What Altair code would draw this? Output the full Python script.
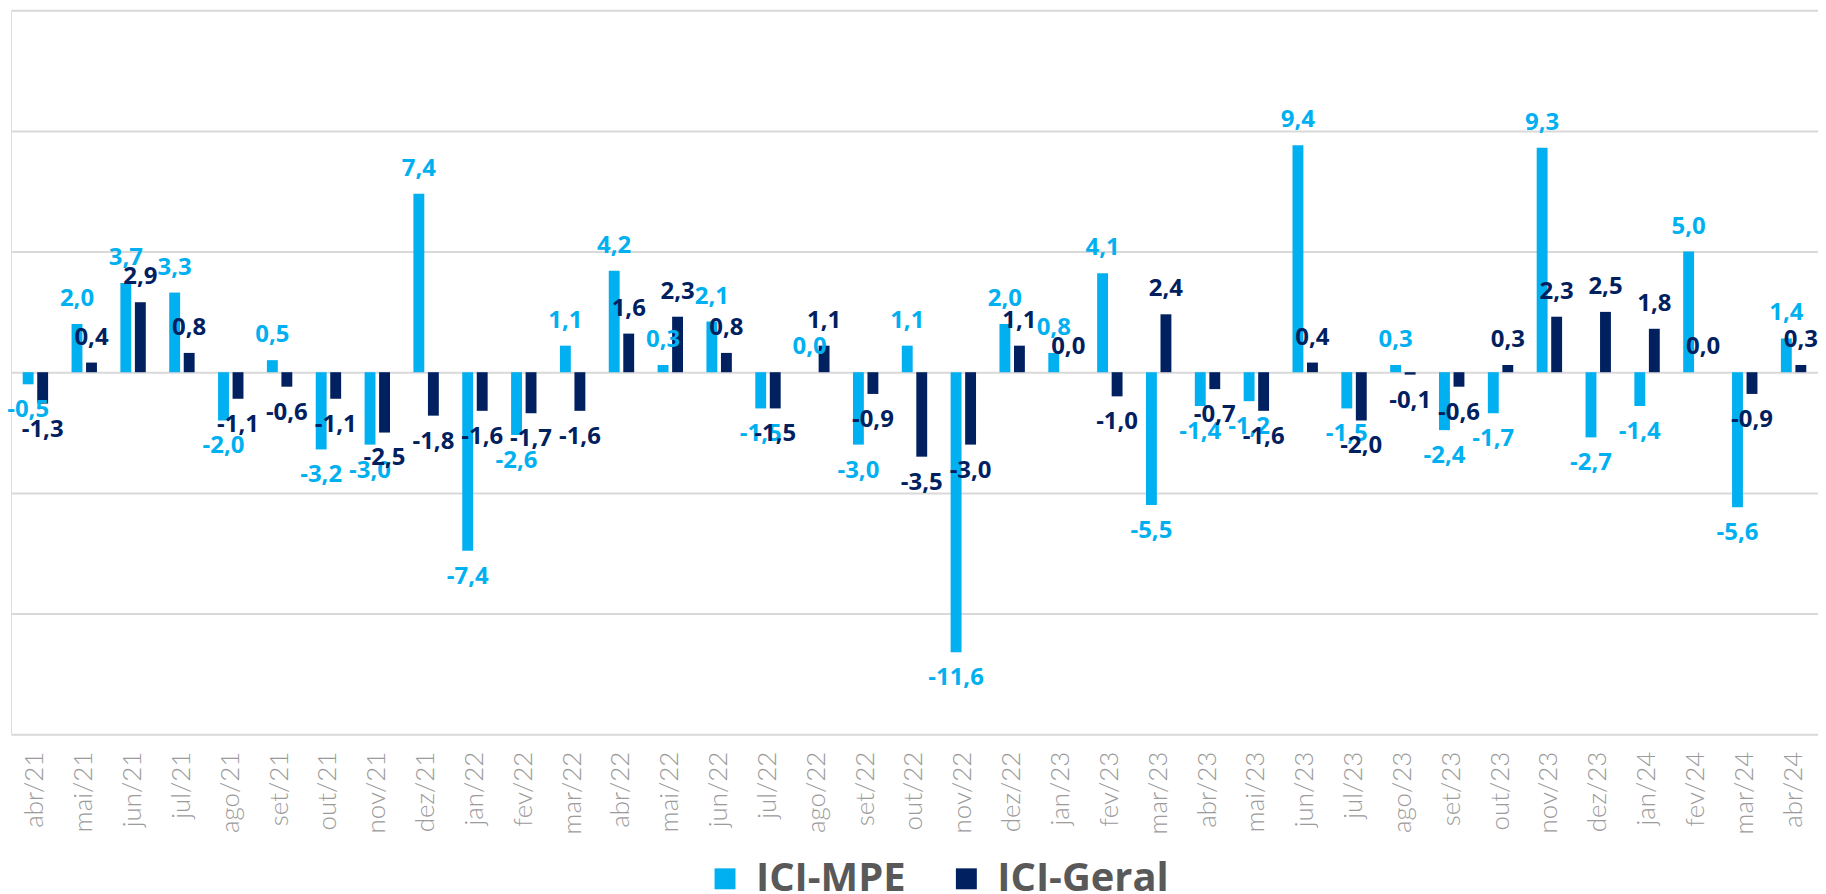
import altair as alt
import pandas as pd

meses = ["abr/21", "mai/21", "jun/21", "jul/21", "ago/21", "set/21", "out/21", "nov/21", "dez/21",
         "jan/22", "fev/22", "mar/22", "abr/22", "mai/22", "jun/22", "jul/22", "ago/22", "set/22",
         "out/22", "nov/22", "dez/22", "jan/23", "fev/23", "mar/23", "abr/23", "mai/23", "jun/23",
         "jul/23", "ago/23", "set/23", "out/23", "nov/23", "dez/23", "jan/24", "fev/24", "mar/24",
         "abr/24"]
ici_mpe = [-0.5, 2.0, 3.7, 3.3, -2.0, 0.5, -3.2, -3.0, 7.4,
           -7.4, -2.6, 1.1, 4.2, 0.3, 2.1, -1.5, 0.0, -3.0,
           1.1, -11.6, 2.0, 0.8, 4.1, -5.5, -1.4, -1.2, 9.4,
           -1.5, 0.3, -2.4, -1.7, 9.3, -2.7, -1.4, 5.0, -5.6,
           1.4]
ici_geral = [-1.3, 0.4, 2.9, 0.8, -1.1, -0.6, -1.1, -2.5, -1.8,
             -1.6, -1.7, -1.6, 1.6, 2.3, 0.8, -1.5, 1.1, -0.9,
             -3.5, -3.0, 1.1, 0.0, -1.0, 2.4, -0.7, -1.6, 0.4,
             -2.0, -0.1, -0.6, 0.3, 2.3, 2.5, 1.8, 0.0, -0.9,
             0.3]
series = ["ICI-MPE", "ICI-Geral"]
cores = ["#00B0F0", "#002060"]

rows = []
for i, m in enumerate(meses):
    rows.append({"mes": m, "serie": series[0], "valor": ici_mpe[i]})
    rows.append({"mes": m, "serie": series[1], "valor": ici_geral[i]})
df = pd.DataFrame(rows)
df["rotulo"] = df["valor"].map(lambda v: f"{v:.1f}".replace(".", ","))

x_enc = alt.X("mes:N", sort=meses,
              scale=alt.Scale(paddingInner=0.48, paddingOuter=0.24),
              axis=alt.Axis(title=None, labelAngle=-90, domain=False, ticks=False, grid=False,
                            labelFont="Lato", labelFontWeight=300, labelFontSize=26,
                            labelColor="#9B9B9B", labelPadding=17))
xo_enc = alt.XOffset("serie:N", sort=series, scale=alt.Scale(paddingInner=0.25, paddingOuter=0))
y_enc = alt.Y("valor:Q", scale=alt.Scale(domain=[-15, 15], nice=False, zero=False),
              axis=alt.Axis(title=None, values=[-15, -10, -5, 0, 5, 10, 15], labels=False,
                            ticks=False, domain=False, grid=True, gridColor="#D9D9D9", gridWidth=2))
col_scale = alt.Scale(domain=series, range=cores)

bars = alt.Chart(df).mark_bar().encode(
    x=x_enc, xOffset=xo_enc, y=y_enc,
    color=alt.Color("serie:N", scale=col_scale, sort=series,
                    legend=alt.Legend(title=None, orient="none", legendX=696, legendY=851,
                                      direction="horizontal", symbolType="square", symbolSize=441,
                                      symbolStrokeWidth=0, labelFont="Open Sans",
                                      labelFontSize=40, labelFontWeight="bold", labelColor="#595959",
                                      labelOffset=11, columnPadding=40, labelLimit=400)),
)

txt_style = dict(font="Open Sans", fontWeight="bold", fontSize=24, baseline="middle", align="center")
pos = alt.Chart(df).transform_filter("datum.valor >= 0").mark_text(dy=-25, **txt_style).encode(
    x=x_enc, xOffset=xo_enc, y=y_enc, text="rotulo:N",
    color=alt.Color("serie:N", scale=col_scale, sort=series, legend=None))
neg = alt.Chart(df).transform_filter("datum.valor < 0").mark_text(dy=26, **txt_style).encode(
    x=x_enc, xOffset=xo_enc, y=y_enc, text="rotulo:N",
    color=alt.Color("serie:N", scale=col_scale, sort=series, legend=None))

chart = alt.layer(bars, pos, neg).properties(
    width=1812, height=726,
    autosize=alt.AutoSizeParams(type="none"),
    padding={"left": 3, "top": 1, "right": 0, "bottom": 159},
).configure_view(stroke=None).configure(background="white")

chart.save("out.html", embed_options={"renderer": "svg", "actions": False})
